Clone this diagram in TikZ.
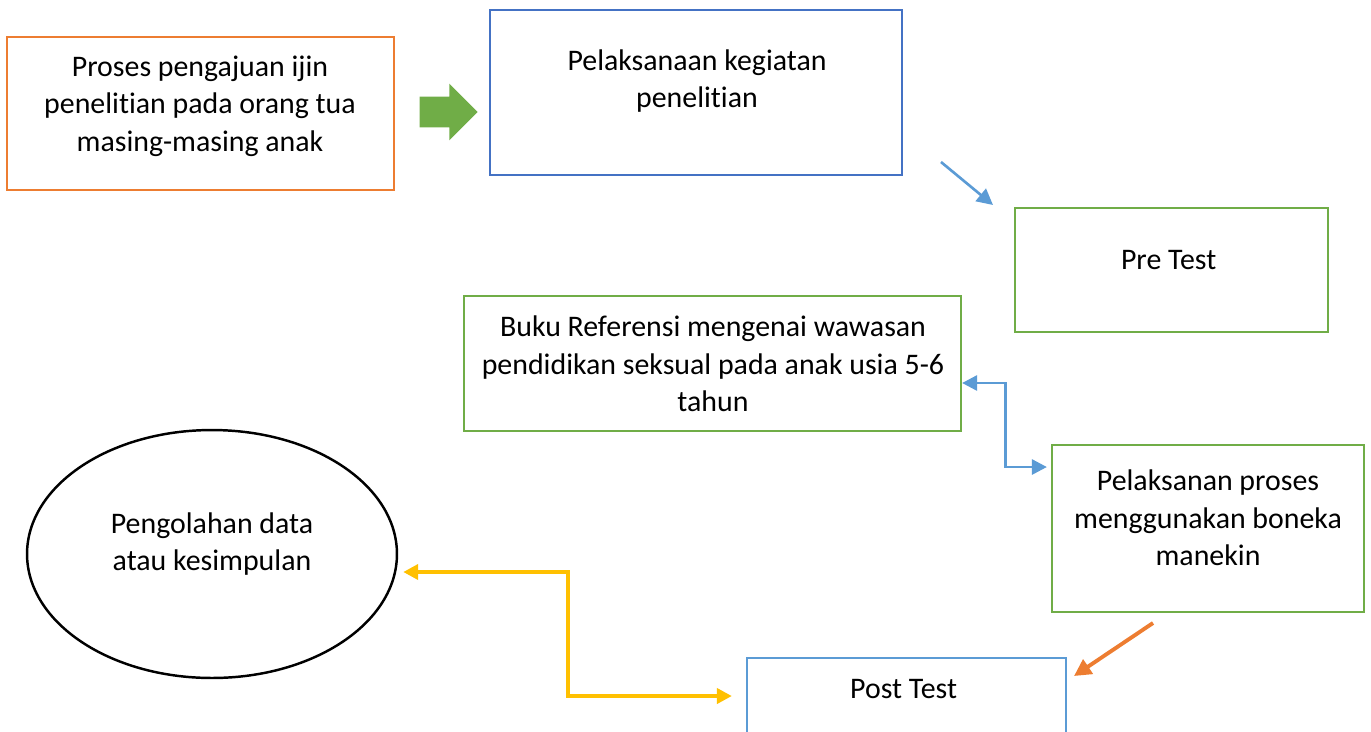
\documentclass[tikz,border=0pt]{standalone}
\usepackage{fontspec}
\setmainfont[Ligatures = NoCommon]{Carlito}
\usetikzlibrary{arrows.meta,shapes.geometric,shapes.arrows}
\definecolor{oranye}{HTML}{ED7D31}
\definecolor{biru}{HTML}{4472C4}
\definecolor{hijau}{HTML}{70AD47}
\definecolor{birumuda}{HTML}{5B9BD5}
\definecolor{kuning}{HTML}{FFC000}

\begin{document}
\begin{tikzpicture}[x = 0.02cm, y = -0.02cm, every node/.append style={align = center, inner sep = 0pt, font = \fontsize{17}{21.3}\selectfont},
  kotak/.style={draw, line width = 1.3pt}, tip/.style={-{Triangle[length = #1, width = #1]}}]

  \useasboundingbox (0, 0) rectangle (1371, 731);
  \clip (0, 0) rectangle (1371, 731);

  \node [kotak, draw=oranye, minimum width = 7.74cm, minimum height = 3.06cm] (ijin) at (200.5, 113.5) {};
  \node (ijin-t) at (200, 106) { Proses pengajuan ijin \\ penelitian pada orang tua \\ masing-masing anak };

  \node [single arrow, fill=hijau, inner sep = 0.3cm, minimum height = 1.16cm, single arrow head extend = 0.26cm] (panah) at (441, 112) {};

  \node [kotak, draw=biru, minimum width = 8.24cm, minimum height = 3.3cm] (laksana) at (696, 92.5) {};
  \node (laksana-t) at (697, 81) { Pelaksanaan kegiatan \\ penelitian };

  \node [kotak, draw=hijau, minimum width = 6.26cm, minimum height = 2.48cm] (pre) at (1171.5, 270) {};
  \node (pre-t) at (1172, 260) { Pre Test };

  \node [kotak, draw=hijau, minimum width = 9.94cm, minimum height = 2.7cm] (buku) at (712.5, 363.5) {};
  \node (buku-t) at (713, 364) { Buku Referensi mengenai wawasan \\ pendidikan seksual pada anak usia 5-6 \\ tahun };

  \node [kotak, draw=hijau, minimum width = 6.24cm, minimum height = 3.34cm] (proses) at (1208, 528.5) {};
  \node (proses-t) at (1208, 518) { Pelaksanan proses \\ menggunakan boneka \\ manekin };

  \node [kotak, draw=birumuda, minimum width = 6.38cm, minimum height = 2.8cm] (post) at (906.5, 728) {};
  \node (post-t) at (907, 689) { Post Test };

  \node [ellipse, draw, line width = 1.4pt, minimum width = 7.4cm, minimum height = 4.96cm] (olah) at (212, 554) {};
  \node (olah-t) at (212, 544) { Pengolahan data \\ atau kesimpulan };

  \coordinate (a1) at (941, 162);
  \coordinate (a2) at (993, 205);
  \draw [birumuda, line width = 1.5pt, tip = 0.32cm] (a1) -- (a2);

  \draw [birumuda, line width = 1.6pt, {Triangle[length = 0.3cm, width = 0.3cm]}-{Triangle[length = 0.3cm, width = 0.3cm]}, shorten > = 0.08cm]
    ([yshift = -0.39cm]buku.east) -- ++(43, 0) |- ([yshift = 1.23cm]proses.west);

  \draw [kuning, line width = 2.2pt, {Triangle[length = 0.3cm, width = 0.3cm]}-{Triangle[length = 0.3cm, width = 0.3cm]}]
    ([xshift = 0.1cm, yshift = -0.36cm]olah.east) -- ++(165, 0) |- ([xshift = -0.28cm, yshift = 0.64cm]post.west);

  \coordinate (o1) at (1153, 623);
  \coordinate (o2) at (1074, 676);
  \draw [oranye, line width = 2.2pt, tip = 0.34cm] (o1) -- (o2);

\end{tikzpicture}
\end{document}
